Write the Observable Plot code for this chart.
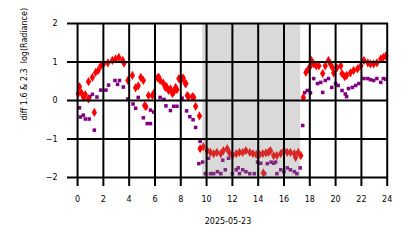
<!DOCTYPE html>
<html><head><meta charset="utf-8">
<script src="https://cdn.jsdelivr.net/npm/d3@7"></script>
<script src="https://cdn.jsdelivr.net/npm/@observablehq/plot@0.6"></script>
<style>body{margin:0;background:#fff}</style>
</head><body><div id="chart"></div>
<script>
// red diamonds: hour, value
const redHours = [0.05,0.15,0.3,0.47,0.6,0.85,0.85,1.15,1.3,1.4,1.6,1.8,2.0,2.35,2.7,2.95,3.2,3.5,3.6,3.9,4.25,4.5,4.7,4.9,5.1,5.2,5.3,5.5,5.8,5.9,6.2,6.3,6.4,6.65,6.8,6.9,7.05,7.2,7.35,7.45,7.6,7.7,7.85,8.0,8.1,8.2,8.35,8.4,8.5,8.6,8.9,9.0,9.15,9.45,
  9.5,9.75,10.05,10.3,10.55,10.8,11.1,11.3,11.6,11.75,12.0,12.3,12.55,12.8,13.05,13.35,13.6,13.85,14.1,14.35,14.4,14.6,14.8,14.95,15.2,15.45,15.75,16.0,16.25,16.5,16.8,16.9,17.1,17.3,
  17.5,17.7,17.9,18.05,18.1,18.3,18.5,18.7,19.0,19.2,19.45,19.6,19.75,19.85,20.1,20.4,20.5,20.7,20.85,21.15,21.4,21.7,21.95,22.2,22.5,22.7,22.95,23.2,23.5,23.7,23.9];
const redVals = [0.18,0.36,0.2,0.08,0.15,0.04,0.49,0.6,-0.31,0.73,0.78,0.9,0.95,0.98,1.04,1.08,1.12,1.04,0.97,0.52,0.65,0.33,0.38,0.6,0.52,-0.13,-0.16,0.13,0.13,0.18,0.59,0.6,0.52,0.45,0.34,0.36,0.26,0.3,0.18,0.22,0.34,0.28,0.57,0.52,0.57,0.58,0.44,0.44,0.13,0.1,0.1,0.08,-0.15,-0.4,
  -1.25,-1.2,-1.3,-1.35,-1.38,-1.35,-1.38,-1.3,-1.25,-1.35,-1.43,-1.38,-1.35,-1.35,-1.3,-1.35,-1.38,-1.4,-1.4,-1.38,-1.88,-1.36,-1.35,-1.3,-1.43,-1.43,-1.38,-1.3,-1.35,-1.35,-1.38,-1.48,-1.35,-1.43,
  0.08,0.73,0.82,0.9,1.05,0.95,0.9,0.9,0.7,0.9,1.04,0.95,0.86,0.72,0.85,0.9,0.7,0.62,0.65,0.72,0.78,0.82,0.9,1.04,0.98,0.95,0.95,0.98,1.08,1.12,1.16];
// purple squares: hour, value
const purpleHours = [0.15,0.22,0.45,0.6,0.9,0.95,1.15,1.3,1.5,1.8,2.2,2.4,2.9,3.1,3.25,3.55,3.9,4.3,4.5,4.7,5.1,5.4,5.65,5.65,5.9,6.4,6.7,6.85,7.2,7.45,7.7,8.1,8.45,8.7,8.95,9.15,9.5,
  9.4,9.7,9.9,10.15,10.3,10.55,10.85,11.1,11.25,11.45,11.7,12.0,12.3,12.45,12.55,12.8,13.05,13.35,13.7,13.95,14.2,14.5,14.7,15.0,15.2,15.35,15.45,15.75,16.0,16.25,16.5,16.8,17.0,17.25,
  17.45,17.6,17.8,18.05,18.3,18.6,18.85,19.0,19.2,19.45,19.7,20.0,20.2,20.5,20.75,20.85,21.0,21.3,21.55,21.8,22.2,22.5,22.7,22.95,23.2,23.5,23.7,23.9];
const purpleVals = [-0.19,-0.43,-0.38,-0.48,-0.48,0.1,0.16,-0.77,0.09,0.27,0.27,0.4,0.52,0.42,0.52,0.35,0.04,-0.09,-0.2,0.08,-0.45,-0.6,-0.6,-0.25,-0.3,0.08,0.03,-0.14,-0.26,-0.15,-0.15,0.06,-0.27,-0.42,-0.5,-0.7,-1.06,
  -1.64,-1.6,-1.9,-1.5,-1.9,-1.9,-1.85,-1.9,-1.55,-1.8,-1.5,-1.9,-1.8,-1.75,-1.9,-1.8,-1.85,-1.9,-1.9,-1.6,-1.63,-1.9,-1.64,-1.6,-1.63,-1.6,-1.9,-1.8,-1.85,-1.75,-1.8,-1.85,-1.9,-1.75,
  -0.65,0.2,0.26,0.2,0.57,0.44,0.47,0.21,0.52,0.57,0.34,0.44,0.39,0.26,0.17,0.1,0.31,0.34,0.39,0.44,0.57,0.57,0.54,0.52,0.57,0.47,0.57,0.55];
const xTicks = [0,2,4,6,8,10,12,14,16,18,20,22,24];
const yTicks = [-2,-1,0,1,2];
const shade = [{start: 9.7, end: 17.3}];
const dateLabel = "2025-05-23";
const yLabel = "diff 1.6 & 2.3  log(Radiance)";

const red = redHours.map((h, i) => ({h, v: redVals[i]}));
const purple = purpleHours.map((h, i) => ({h, v: purpleVals[i]}));

const chart = Plot.plot({
  width: 414, height: 248,
  marginLeft: 67, marginRight: 26, marginTop: 23, marginBottom: 71,
  style: {fontFamily: "DejaVu Sans", fontSize: "8px", color: "#000", background: "#fff"},
  x: {domain: [-0.78, 24.1]},
  y: {domain: [-2, 2]},
  marks: [
    Plot.dot(purple, {x: "h", y: "v", symbol: "square", r: 2.0, fill: "#800080", stroke: "none"}),
    Plot.dot(red, {x: "h", y: "v", symbol: "diamond", r: 2.8, fill: "#ff0000", stroke: "none"}),
    Plot.rectY(shade, {x1: "start", x2: "end", y1: -2, y2: 2, fill: "#808080", fillOpacity: 0.3}),
    Plot.ruleX(xTicks, {stroke: "#000", strokeWidth: 2}),
    Plot.ruleY(yTicks, {stroke: "#000", strokeWidth: 2}),
    Plot.axisX({ticks: xTicks, tickSize: 9, tickPadding: 10, strokeWidth: 2, stroke: "#000", fontSize: 8, label: null}),
    Plot.axisY({ticks: yTicks, tickSize: 0, tickPadding: 10, fontSize: 8, label: null, tickFormat: d => d < 0 ? "\u2212" + Math.abs(d) : String(d)}),
    Plot.text([dateLabel], {frameAnchor: "bottom", dy: 46, fontSize: 8, fill: "#000"}),
    Plot.text([yLabel], {frameAnchor: "left", dx: -43, dy: 20, rotate: -90, fontSize: 8, fill: "#000"})
  ]
});
document.getElementById("chart").appendChild(chart);
</script></body></html>
